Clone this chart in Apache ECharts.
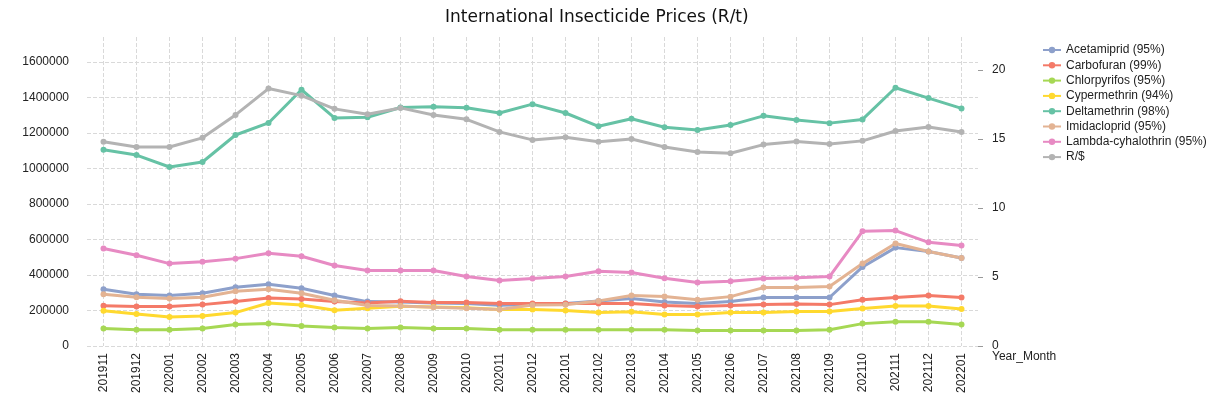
<!DOCTYPE html>
<html>
<head>
<meta charset="utf-8">
<script src="https://cdn.jsdelivr.net/npm/echarts@6/dist/echarts.min.js"></script>
<style>
  html, body { margin: 0; padding: 0; background: #fff; }
  #chart { width: 1223px; height: 398px; }
</style>
</head>
<body>
<div id="chart"></div>
<script>
// months shown on the x axis
const months = ['201911', '201912', '202001', '202002', '202003', '202004', '202005', '202006', '202007',
  '202008', '202009', '202010', '202011', '202012', '202101', '202102', '202103', '202104',
  '202105', '202106', '202107', '202108', '202109', '202110', '202111', '202112', '202201'];

// prices in R/t (left axis)
const acetamiprid = [319000, 291000, 284000, 297000, 331000, 348000, 325000, 284000, 250000,
  248000, 242000, 239000, 229000, 233000, 239000, 253000, 267000, 248000,
  239000, 250000, 273000, 273000, 273000, 445000, 554000, 532000, 496000];
const carbofuran = [227000, 222000, 222000, 233000, 250000, 270000, 265000, 250000, 242000,
  252000, 245000, 245000, 239000, 239000, 239000, 239000, 239000, 228000,
  222000, 228000, 233000, 236000, 233000, 261000, 273000, 284000, 273000];
const chlorpyrifos = [98000, 92000, 92000, 98000, 121000, 126000, 113000, 104000, 98000,
  104000, 98000, 98000, 92000, 92000, 92000, 92000, 92000, 92000,
  87000, 87000, 87000, 87000, 92000, 126000, 137000, 137000, 121000];
const cypermethrin = [199000, 180000, 163000, 169000, 188000, 242000, 231000, 201000, 212000,
  224000, 220000, 215000, 205000, 206000, 200000, 188000, 193000, 177000,
  177000, 188000, 188000, 194000, 194000, 211000, 225000, 225000, 208000];
const deltamethrin = [1105000, 1075000, 1008000, 1036000, 1188000, 1256000, 1443000, 1284000, 1288000,
  1343000, 1347000, 1341000, 1312000, 1362000, 1312000, 1237000, 1280000, 1232000,
  1216000, 1244000, 1296000, 1272000, 1255000, 1276000, 1454000, 1396000, 1338000];
const imidacloprid = [291000, 274000, 267000, 274000, 308000, 319000, 297000, 258000, 228000,
  225000, 218000, 212000, 205000, 231000, 232000, 254000, 284000, 279000,
  261000, 278000, 329000, 329000, 335000, 464000, 577000, 532000, 496000];
const lambdaCyhalothrin = [549000, 511000, 464000, 475000, 492000, 522000, 505000, 453000, 425000,
  425000, 425000, 391000, 369000, 380000, 391000, 421000, 414000, 381000,
  357000, 364000, 380000, 385000, 391000, 646000, 650000, 584000, 566000];

// exchange rate (right axis)
const randDollar = [14.80, 14.43, 14.43, 15.09, 16.75, 18.66, 18.15, 17.19, 16.80,
  17.26, 16.75, 16.43, 15.52, 14.94, 15.13, 14.80, 15.01, 14.43,
  14.07, 13.97, 14.60, 14.82, 14.65, 14.87, 15.59, 15.88, 15.52];

const leftTicks = [0, 200000, 400000, 600000, 800000, 1000000, 1200000, 1400000, 1600000];
const rightTicks = [0, 5, 10, 15, 20];

const seriesList = [
  { name: 'Acetamiprid (95%)', data: acetamiprid, color: '#8DA0CB' },
  { name: 'Carbofuran (99%)', data: carbofuran, color: '#F47A68' },
  { name: 'Chlorpyrifos (95%)', data: chlorpyrifos, color: '#A6D854' },
  { name: 'Cypermethrin (94%)', data: cypermethrin, color: '#FFD92F' },
  { name: 'Deltamethrin (98%)', data: deltamethrin, color: '#66C2A5' },
  { name: 'Imidacloprid (95%)', data: imidacloprid, color: '#E3B393' },
  { name: 'Lambda-cyhalothrin (95%)', data: lambdaCyhalothrin, color: '#E78AC3' },
  { name: 'R/$', data: randDollar, color: '#B3B3B3', yAxisIndex: 1 }
];

const font = 'Liberation Sans, Arial, sans-serif';
const gridColor = '#d9d9d9';

const chart = echarts.init(document.getElementById('chart'));

// split line colours: visible for each labelled tick, hidden for the axis max
const leftSplitColors = leftTicks.map(() => gridColor).concat(['rgba(0,0,0,0)']);

chart.setOption({
  animation: false,
  backgroundColor: '#fff',
  title: {
    text: 'International Insecticide Prices (R/t)',
    left: 440,
    top: 4,
    textStyle: { fontFamily: 'DejaVu Sans', fontSize: 17, fontWeight: 'normal', color: '#111' }
  },
  legend: {
    orient: 'vertical',
    left: 1037,
    top: 38,
    itemWidth: 18,
    itemHeight: 8,
    itemGap: 1.3,
    textStyle: { fontFamily: font, fontSize: 12, color: '#222', lineHeight: 14 },
    data: seriesList.map(s => s.name)
  },
  grid: { left: 87, right: 245, top: 37, bottom: 52 },
  xAxis: {
    type: 'category',
    data: months,
    boundaryGap: true,
    name: 'Year_Month',
    nameLocation: 'end',
    nameGap: 14,
    nameMoveOverlap: false,
    nameTextStyle: { fontFamily: font, fontSize: 12, color: '#222', align: 'left', verticalAlign: 'top', padding: [5, 0, 0, 0] },
    axisLine: { show: false },
    axisTick: { show: false, alignWithLabel: true },
    axisLabel: { rotate: 90, interval: 0, margin: 7, fontFamily: font, fontSize: 12, color: '#222' },
    splitLine: { show: true, alignWithLabel: true, lineStyle: { color: gridColor, type: 'dashed' } }
  },
  yAxis: [
    {
      type: 'value',
      min: 0,
      max: 1740000,
      interval: 200000,
      axisLine: { show: false },
      axisTick: { show: false },
      axisLabel: { showMaxLabel: false, margin: 18, fontFamily: font, fontSize: 12, color: '#222', formatter: v => String(v) },
      splitLine: { show: true, lineStyle: { color: leftSplitColors, type: 'dashed' } }
    },
    {
      type: 'value',
      position: 'right',
      min: 0,
      max: 22.4,
      interval: 5,
      axisLine: { show: false },
      axisTick: { show: true, length: 5, customValues: rightTicks, lineStyle: { color: '#999' } },
      axisLabel: { customValues: rightTicks, margin: 14, fontFamily: font, fontSize: 12, color: '#222' },
      splitLine: { show: false }
    }
  ],
  series: seriesList.map(s => ({
    name: s.name,
    type: 'line',
    yAxisIndex: s.yAxisIndex || 0,
    data: s.data,
    symbol: 'circle',
    symbolSize: 6,
    itemStyle: { color: s.color },
    lineStyle: { color: s.color, width: 3 }
  }))
});

window.addEventListener('resize', () => chart.resize());
</script>
</body>
</html>
